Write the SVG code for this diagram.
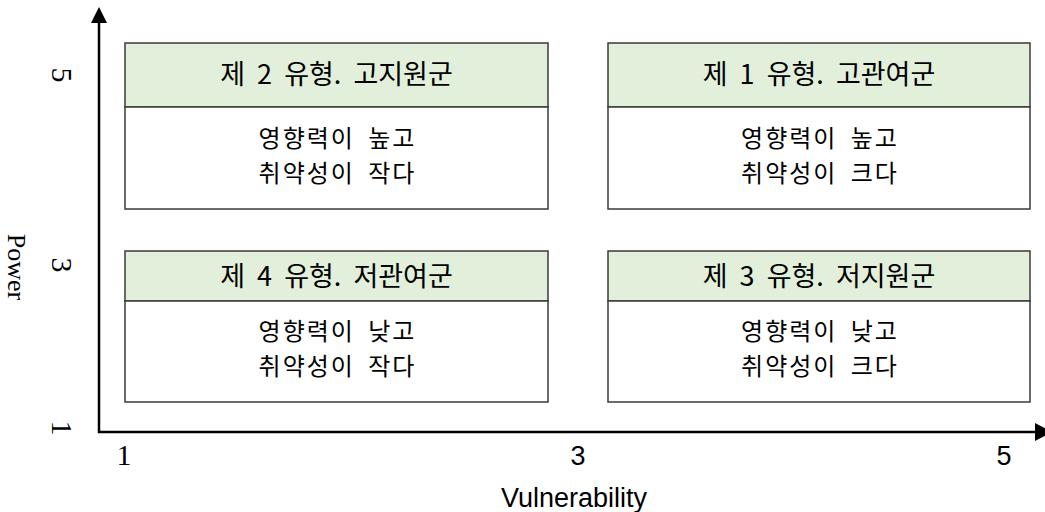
<svg xmlns="http://www.w3.org/2000/svg" width="1045" height="512" viewBox="0 0 1045 512">
<defs>
<style>
.hdr{fill:#E2EFDA;stroke:#3a3a3a;stroke-width:1.5}
.body{fill:#FFFFFF;stroke:#3a3a3a;stroke-width:1.5}
.kt{font-family:"Noto Sans CJK KR","Noto Sans",sans-serif;font-size:27px;fill:#000;text-anchor:middle;word-spacing:6px}
.kb{font-family:"Noto Sans CJK KR","Noto Sans",sans-serif;font-size:24px;fill:#000;text-anchor:middle;letter-spacing:2px;word-spacing:6px}
.ser{font-family:"Liberation Serif",serif;font-size:30px;fill:#000;text-anchor:middle}
.san{font-family:"Liberation Sans",sans-serif;font-size:27px;fill:#000;text-anchor:middle}
.axis{stroke:#000;stroke-width:2.5;fill:none}
</style>
</defs>
<rect width="1045" height="512" fill="#FFFFFF"/>
<g id="connectors">
<line class="axis" x1="99" y1="433" x2="99" y2="20"/>
<polygon points="99,7 91,23 107,23" fill="#000"/>
<line class="axis" x1="98" y1="432" x2="1038" y2="432"/>
<polygon points="1052,432 1035,423 1035,441" fill="#000"/>
</g>
<g id="type2">
<rect class="hdr" x="125" y="43" width="423" height="64"/>
<rect class="body" x="125" y="107" width="423" height="102"/>
<text class="kt" x="336.5" y="84">제 2 유형. 고지원군</text>
<text class="kb" x="337.5" y="147">영향력이 높고</text>
<text class="kb" x="337.5" y="182">취약성이 작다</text>
</g>
<g id="type1">
<rect class="hdr" x="608" y="43" width="422" height="64"/>
<rect class="body" x="608" y="107" width="422" height="102"/>
<text class="kt" x="819" y="84">제 1 유형. 고관여군</text>
<text class="kb" x="820" y="147">영향력이 높고</text>
<text class="kb" x="820" y="182">취약성이 크다</text>
</g>
<g id="type4">
<rect class="hdr" x="125" y="251" width="423" height="50"/>
<rect class="body" x="125" y="301" width="423" height="101"/>
<text class="kt" x="336.5" y="286">제 4 유형. 저관여군</text>
<text class="kb" x="337.5" y="340">영향력이 낮고</text>
<text class="kb" x="337.5" y="375">취약성이 작다</text>
</g>
<g id="type3">
<rect class="hdr" x="608" y="251" width="422" height="50"/>
<rect class="body" x="608" y="301" width="422" height="101"/>
<text class="kt" x="819" y="286">제 3 유형. 저지원군</text>
<text class="kb" x="820" y="340">영향력이 낮고</text>
<text class="kb" x="820" y="375">취약성이 크다</text>
</g>
<g id="labels">
<text class="ser" transform="translate(52,75) rotate(90)">5</text>
<text class="ser" transform="translate(52,265) rotate(90)">3</text>
<text class="ser" transform="translate(52,428) rotate(90)">1</text>
<text class="ser" transform="translate(8,267) rotate(90)" style="font-size:26px">Power</text>
<text class="ser" x="124" y="465">1</text>
<text class="san" x="578" y="465">3</text>
<text class="san" x="1004" y="465">5</text>
<text class="san" x="574" y="507">Vulnerability</text>
</g>
</svg>
